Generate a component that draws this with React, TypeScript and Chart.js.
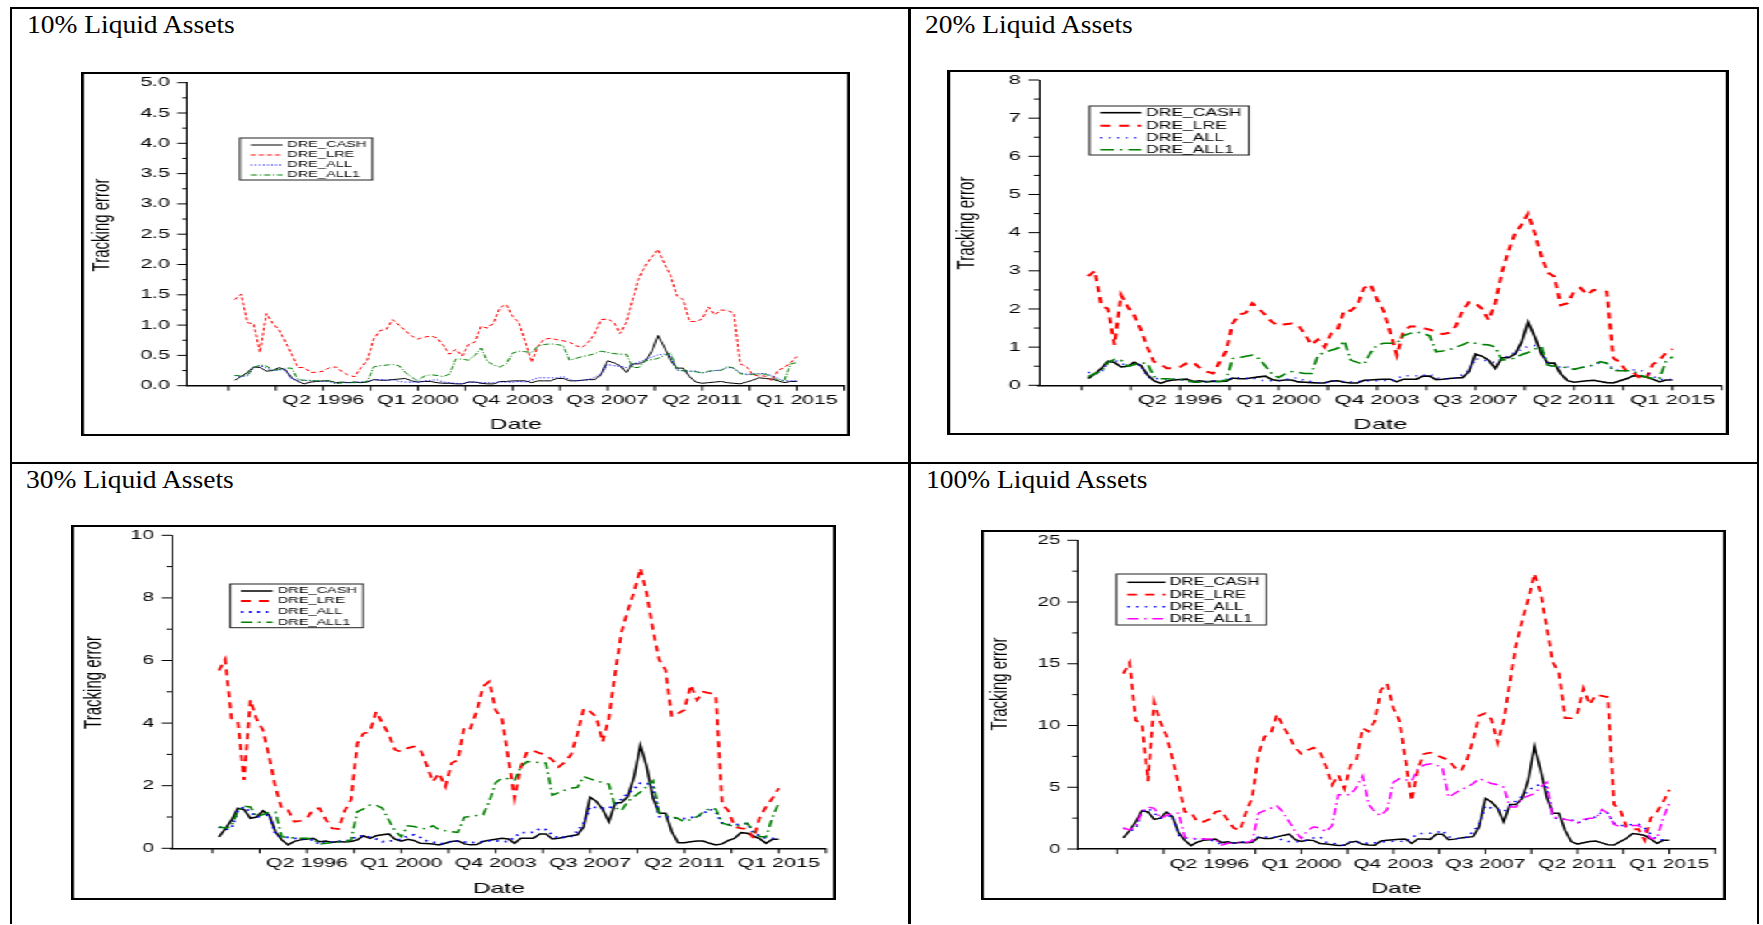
import React, { useEffect, useRef } from 'react';
import { Chart, registerables } from 'chart.js';
Chart.register(...registerables);

// ---------- categories ----------
const quarters: string[] = [];
for (let y = 1992; y <= 2015; y++) {
  for (let q = 1; q <= 4; q++) {
    if ((y === 1992 && q < 4) || (y === 2015 && q > 1)) continue;
    quarters.push(`Q${q} ${y}`);
  }
}
const xTickLabels = ['Q2 1996', 'Q1 2000', 'Q4 2003', 'Q3 2007', 'Q2 2011', 'Q1 2015'];
const seriesNames = ['DRE_CASH', 'DRE_LRE', 'DRE_ALL', 'DRE_ALL1'];

// ---------- 10% liquid assets ----------
const cash10 = [0.09,0.15,0.22,0.31,0.30,0.24,0.25,0.30,0.26,0.13, 0.07,0.03,0.06,0.07,0.08,0.08,0.05,0.06,0.05,0.06, 0.05,0.06,0.10,0.09,0.09,0.10,0.11,0.12,0.08,0.06, 0.07,0.07,0.05,0.04,0.04,0.03,0.03,0.06,0.06,0.04, 0.03,0.03,0.07,0.07,0.08,0.08,0.08,0.05,0.08,0.08, 0.08,0.12,0.12,0.08,0.08,0.09,0.10,0.10,0.18,0.41, 0.38,0.33,0.22,0.36,0.36,0.41,0.56,0.83,0.64,0.42, 0.29,0.29,0.15,0.06,0.04,0.05,0.06,0.07,0.05,0.04, 0.03,0.06,0.09,0.13,0.12,0.11,0.08,0.05,0.07,0.07];
const lre10 = [1.42,1.51,1.04,1.02,0.55,1.19,1.03,0.92,0.73,0.52, 0.30,0.30,0.22,0.22,0.24,0.30,0.31,0.23,0.17,0.15, 0.30,0.42,0.77,0.91,0.93,1.09,1.00,0.91,0.82,0.77, 0.80,0.82,0.79,0.67,0.52,0.60,0.49,0.68,0.72,0.98, 0.95,1.04,1.29,1.34,1.14,1.04,0.72,0.39,0.65,0.77, 0.78,0.76,0.74,0.72,0.66,0.63,0.72,0.86,1.09,1.10, 1.05,0.86,1.05,1.42,1.78,1.98,2.12,2.25,2.02,1.82, 1.48,1.42,1.06,1.06,1.10,1.30,1.17,1.25,1.24,1.20, 0.36,0.32,0.18,0.16,0.16,0.08,0.25,0.30,0.38,0.48];
const all10 = [0.17,0.15,0.16,0.30,0.33,0.29,0.25,0.26,0.27,0.11, 0.09,0.09,0.08,0.08,0.07,0.07,0.03,0.05,0.05,0.06, 0.06,0.07,0.10,0.10,0.09,0.10,0.07,0.06,0.06,0.06, 0.08,0.09,0.10,0.06,0.05,0.04,0.03,0.06,0.06,0.05, 0.05,0.05,0.06,0.06,0.06,0.07,0.06,0.09,0.13,0.13, 0.13,0.13,0.15,0.10,0.08,0.09,0.10,0.14,0.20,0.35, 0.33,0.32,0.30,0.35,0.39,0.43,0.47,0.51,0.52,0.50, 0.26,0.24,0.24,0.24,0.21,0.23,0.25,0.26,0.30,0.29, 0.21,0.19,0.19,0.20,0.20,0.17,0.12,0.08,0.08,0.08];
const all1_10 = [0.17,0.16,0.18,0.30,0.34,0.33,0.25,0.27,0.29,0.29, 0.10,0.09,0.09,0.08,0.08,0.08,0.03,0.05,0.05,0.05, 0.05,0.07,0.31,0.33,0.34,0.35,0.33,0.22,0.14,0.08, 0.16,0.18,0.17,0.15,0.19,0.44,0.44,0.42,0.50,0.62, 0.40,0.34,0.31,0.36,0.54,0.57,0.56,0.55,0.65,0.68, 0.69,0.68,0.66,0.42,0.45,0.48,0.50,0.53,0.57,0.55, 0.53,0.52,0.52,0.30,0.30,0.41,0.43,0.45,0.50,0.54, 0.26,0.25,0.24,0.23,0.21,0.24,0.25,0.25,0.32,0.29, 0.20,0.18,0.19,0.19,0.19,0.15,0.09,0.08,0.36,0.38];

// ---------- 20% liquid assets ----------
const cash20 = [0.18,0.30,0.44,0.63,0.60,0.48,0.50,0.60,0.52,0.28, 0.12,0.05,0.11,0.14,0.15,0.16,0.10,0.12,0.09,0.11, 0.10,0.11,0.19,0.17,0.17,0.20,0.22,0.24,0.15,0.12, 0.14,0.14,0.09,0.08,0.07,0.06,0.06,0.11,0.12,0.08, 0.06,0.06,0.13,0.14,0.15,0.16,0.16,0.09,0.16,0.16, 0.16,0.24,0.24,0.15,0.16,0.18,0.19,0.20,0.36,0.82, 0.76,0.66,0.44,0.72,0.72,0.82,1.12,1.66,1.28,0.84, 0.58,0.58,0.30,0.12,0.08,0.10,0.12,0.13,0.10,0.07, 0.06,0.12,0.17,0.25,0.24,0.22,0.16,0.09,0.14,0.14];
const lre20 = [2.86,3.00,2.10,2.00,1.06,2.37,2.06,1.84,1.46,1.00, 0.62,0.55,0.45,0.45,0.48,0.58,0.60,0.46,0.36,0.31, 0.60,0.90,1.62,1.85,1.90,2.15,2.00,1.84,1.66,1.56, 1.60,1.62,1.58,1.34,1.06,1.20,1.00,1.36,1.46,1.97, 1.95,2.10,2.55,2.65,2.25,1.95,1.40,0.79,1.40,1.54, 1.54,1.50,1.46,1.40,1.34,1.38,1.55,1.95,2.18,2.15, 2.00,1.71,2.15,2.95,3.50,3.98,4.20,4.50,4.00,3.40, 2.95,2.85,2.10,2.15,2.45,2.55,2.37,2.50,2.47,2.45, 0.71,0.60,0.36,0.34,0.20,0.16,0.55,0.65,0.85,0.95];
const all20 = [0.34,0.30,0.32,0.60,0.66,0.58,0.50,0.52,0.54,0.22, 0.18,0.17,0.16,0.16,0.14,0.13,0.06,0.10,0.10,0.11, 0.12,0.13,0.20,0.20,0.18,0.20,0.13,0.12,0.12,0.12, 0.15,0.18,0.20,0.11,0.10,0.07,0.06,0.12,0.11,0.10, 0.09,0.10,0.11,0.12,0.12,0.13,0.11,0.18,0.25,0.25, 0.25,0.26,0.30,0.20,0.16,0.18,0.19,0.28,0.40,0.70, 0.66,0.64,0.60,0.70,0.78,0.86,0.94,1.02,1.04,1.00, 0.52,0.48,0.48,0.48,0.42,0.46,0.50,0.52,0.60,0.58, 0.42,0.38,0.38,0.40,0.40,0.34,0.24,0.15,0.15,0.16];
const all1_20 = [0.23,0.31,0.36,0.60,0.68,0.66,0.50,0.54,0.58,0.58, 0.23,0.17,0.17,0.16,0.15,0.14,0.08,0.08,0.09,0.10, 0.10,0.13,0.70,0.72,0.76,0.79,0.70,0.50,0.30,0.20, 0.30,0.36,0.34,0.31,0.31,0.79,0.86,0.92,0.97,1.16, 0.66,0.60,0.55,0.85,1.06,1.10,1.10,1.10,1.30,1.36, 1.40,1.36,1.30,0.88,0.90,0.93,1.00,1.06,1.14,1.10, 1.07,1.06,1.00,0.66,0.68,0.71,0.80,0.86,0.95,1.01, 0.53,0.50,0.48,0.46,0.42,0.46,0.49,0.54,0.62,0.58, 0.38,0.38,0.38,0.38,0.27,0.22,0.18,0.18,0.62,0.75];

// ---------- 30% liquid assets ----------
const cash30 = [0.36,0.62,0.90,1.28,1.24,0.96,1.00,1.20,1.06,0.53, 0.27,0.11,0.22,0.27,0.30,0.32,0.21,0.23,0.19,0.22, 0.20,0.22,0.27,0.40,0.32,0.40,0.43,0.46,0.29,0.23, 0.29,0.25,0.16,0.15,0.14,0.11,0.16,0.22,0.24,0.14, 0.11,0.12,0.22,0.26,0.29,0.32,0.30,0.16,0.32,0.32, 0.32,0.46,0.46,0.30,0.32,0.36,0.40,0.43,0.69,1.63, 1.50,1.25,0.85,1.44,1.46,1.65,2.29,3.30,2.61,1.60, 1.12,1.12,0.53,0.18,0.18,0.21,0.23,0.23,0.16,0.11, 0.14,0.25,0.32,0.50,0.48,0.39,0.30,0.16,0.29,0.29];
const lre30 = [5.68,6.04,4.15,4.08,2.18,4.74,4.12,3.78,2.92,1.95, 1.25,1.22,0.85,0.88,0.96,1.25,1.28,0.92,0.64,0.62, 1.20,1.55,3.35,3.67,3.72,4.37,4.00,3.64,3.15,3.08, 3.20,3.25,3.16,2.68,2.13,2.40,1.97,2.72,2.82,3.89, 3.83,4.40,5.17,5.33,4.40,4.16,2.88,1.60,2.60,3.09, 3.12,3.04,2.98,2.82,2.60,2.75,3.00,3.67,4.47,4.37, 4.20,3.40,4.15,5.60,6.90,7.60,8.20,8.95,8.15,6.98, 6.02,5.70,4.20,4.31,4.42,5.22,4.74,5.00,4.96,4.90, 1.40,1.20,0.69,0.64,0.62,0.32,1.01,1.33,1.60,1.92];
const all30 = [0.68,0.60,0.64,1.20,1.32,1.16,1.00,1.04,1.08,0.44, 0.36,0.35,0.32,0.32,0.29,0.26,0.12,0.20,0.20,0.22, 0.24,0.26,0.40,0.40,0.36,0.30,0.21,0.24,0.24,0.30, 0.39,0.43,0.35,0.24,0.20,0.16,0.14,0.24,0.22,0.20, 0.18,0.20,0.21,0.24,0.24,0.21,0.22,0.36,0.50,0.50, 0.51,0.63,0.60,0.43,0.32,0.36,0.38,0.56,0.80,1.33, 1.30,1.28,1.28,1.40,1.57,1.75,1.90,2.08,2.08,2.00, 1.01,1.01,0.98,0.96,0.95,0.98,1.01,1.10,1.25,1.16, 0.80,0.76,0.75,0.78,0.80,0.48,0.40,0.32,0.32,0.32];
const all1_30 = [0.69,0.64,0.70,1.20,1.35,1.32,1.01,1.08,1.15,1.15, 0.37,0.34,0.34,0.32,0.32,0.30,0.13,0.16,0.18,0.20, 0.21,0.26,1.17,1.26,1.38,1.38,1.28,0.90,0.56,0.37, 0.72,0.70,0.64,0.62,0.72,0.60,0.56,0.53,0.51,0.99, 1.02,1.05,1.07,1.50,2.10,2.24,2.22,2.18,2.60,2.77, 2.76,2.74,2.72,1.70,1.78,1.86,1.92,1.95,2.29,2.22, 2.15,2.10,2.05,1.30,1.20,1.50,1.65,1.80,1.97,2.16, 1.12,1.05,1.01,0.95,0.85,0.92,1.01,1.15,1.28,1.25, 0.80,0.75,0.69,0.74,0.80,0.53,0.37,0.37,1.00,1.44];

// ---------- 100% liquid assets ----------
const cash100 = [0.9,1.5,2.2,3.1,3.0,2.4,2.5,3.0,2.6,1.3, 0.7,0.28,0.55,0.7,0.75,0.8,0.52,0.58,0.47,0.55, 0.5,0.55,0.95,0.85,0.85,0.98,1.1,1.2,0.75,0.62, 0.72,0.68,0.45,0.4,0.35,0.28,0.3,0.55,0.62,0.38, 0.32,0.3,0.65,0.7,0.75,0.78,0.8,0.45,0.8,0.8, 0.78,1.2,1.2,0.75,0.8,0.9,0.95,1.0,1.8,4.1, 3.8,3.3,2.2,3.6,3.6,4.1,5.6,8.3,6.4,4.2, 2.9,2.9,1.5,0.6,0.4,0.5,0.6,0.65,0.5,0.35, 0.32,0.6,0.85,1.25,1.2,1.1,0.8,0.45,0.7,0.7];
const lre100 = [14.2,15.1,10.4,10.2,5.5,11.9,10.3,9.2,7.3,5.2, 3.0,3.0,2.2,2.2,2.4,3.0,3.1,2.3,1.7,1.5, 3.0,4.2,7.7,9.1,9.3,10.9,10.0,9.1,8.2,7.7, 8.0,8.2,7.9,6.7,5.2,6.0,4.9,6.8,7.2,9.8, 9.5,10.4,12.9,13.4,11.4,10.4,7.2,3.9,6.5,7.7, 7.8,7.6,7.4,7.2,6.6,6.3,7.2,8.8,10.8,11.0, 10.5,8.6,10.4,13.5,16.5,18.5,20.2,22.3,20.8,18.0, 15.1,14.3,10.6,10.6,11.0,13.0,11.7,12.5,12.4,12.3, 3.6,3.2,1.8,1.6,1.6,0.7,2.5,3.0,3.8,4.8];
const all100 = [1.7,1.5,1.6,3.0,3.3,2.9,2.5,2.6,2.7,1.1, 0.9,0.85,0.8,0.8,0.72,0.65,0.3,0.5,0.5,0.55, 0.6,0.65,1.0,1.0,0.9,1.0,0.65,0.6,0.6,0.58, 0.75,0.9,1.0,0.55,0.5,0.35,0.3,0.6,0.55,0.5, 0.45,0.5,0.55,0.6,0.62,0.65,0.55,0.9,1.25,1.25, 1.27,1.3,1.5,1.0,0.8,0.9,0.95,1.4,2.0,3.5, 3.3,3.2,3.0,3.5,3.9,4.3,4.7,5.1,5.2,5.0, 2.6,2.4,2.4,2.4,2.1,2.3,2.5,2.6,3.0,2.9, 2.1,1.9,1.9,2.0,2.0,1.7,1.2,0.75,0.75,0.8];
const all1_100 = [1.7,1.55,1.8,3.0,3.4,3.3,2.5,2.7,2.9,2.9, 0.95,0.86,0.86,0.8,0.8,0.78,0.32,0.46,0.46,0.5, 0.54,0.65,2.9,3.1,3.3,3.5,3.0,2.2,1.4,0.86, 1.5,1.8,1.7,1.4,1.9,4.4,4.4,4.4,5.0,5.9, 3.6,3.0,2.7,3.2,5.4,5.7,5.6,5.5,6.5,6.8, 6.9,6.8,6.6,4.2,4.5,4.8,5.0,5.3,5.7,5.5, 5.3,5.2,5.0,3.4,3.4,4.1,4.3,4.5,5.0,5.4, 2.6,2.5,2.4,2.3,2.1,2.4,2.5,2.5,3.2,2.9, 2.0,1.8,1.85,1.9,1.9,1.5,0.86,0.86,2.5,3.7];

// ---------- y tick labels ----------
const yLabels10 = ['0.0','0.5','1.0','1.5','2.0','2.5','3.0','3.5','4.0','4.5','5.0'];
const yLabels20 = ['0','1','2','3','4','5','6','7','8'];
const yLabels30 = ['0','2','4','6','8','10'];
const yLabels100 = ['0','5','10','15','20','25'];

// ---------- axis config ----------
const X_MIN = -7.5;
const X_MAX = 96.5;
const X_STEP = 7.5;
const FONT = '"Liberation Sans", Arial, Helvetica, sans-serif';

function xTickValues(): number[] {
  const first = quarters.indexOf(xTickLabels[0]) - 2 * X_STEP;
  const out: number[] = [];
  for (let v = first; v <= X_MAX + 1e-9; v += X_STEP) out.push(v);
  return out;
}
function xLabelFor(v: number): string {
  for (const l of xTickLabels) if (Math.abs(quarters.indexOf(l) - v) < 1e-6) return l;
  return '';
}

type Style = { color: string; width: number; dash: number[] };
type PanelCfg = {
  title: string; titleLeft: number; titleTop: number;
  boxLeft: number; boxTop: number; boxW: number;
  canvasW: number; canvasH: number;
  plot: { left: number; right: number; top: number; bottom: number };
  yLabels: string[];
  series: number[][];
  styles: Style[];
  xTitlePad: number;
  yTitleX: number; yTitleY: number;
  legend: { x: number; y: number; w: number; h: number; x0: number; x1: number; tx: number; rows: number[]; font: number };
};

const panels: PanelCfg[] = [
  {
    title: '10% Liquid Assets', titleLeft: 27, titleTop: 12.4,
    boxLeft: 81, boxTop: 72, boxW: 769, canvasW: 465, canvasH: 360,
    plot: { left: 62.9, right: 463.5, top: 8.7, bottom: 311.7 },
    yLabels: yLabels10,
    series: [cash10, lre10, all10, all1_10],
    styles: [
      { color: '#000000', width: 1, dash: [] },
      { color: '#ff0000', width: 1, dash: [3, 2] },
      { color: '#0000ff', width: 1, dash: [1, 1.5] },
      { color: '#008000', width: 1, dash: [4, 1.5, 1, 1.5] },
    ],
    xTitlePad: 0.2, yTitleX: 10.6, yTitleY: 151,
    legend: { x: 94.9, y: 64, w: 80.9, h: 42, x0: 101.5, x1: 120.9, tx: 123.8, rows: [71, 81, 91, 101], font: 8.9 },
  },
  {
    title: '20% Liquid Assets', titleLeft: 925, titleTop: 12.4,
    boxLeft: 947, boxTop: 70, boxW: 782, canvasW: 456, canvasH: 361,
    plot: { left: 52.1, right: 453.7, top: 8, bottom: 313.3 },
    yLabels: yLabels20,
    series: [cash20, lre20, all20, all1_20],
    styles: [
      { color: '#000000', width: 1.6, dash: [] },
      { color: '#ff0000', width: 2, dash: [6, 5] },
      { color: '#0000ff', width: 1.5, dash: [1, 4] },
      { color: '#008000', width: 1.6, dash: [8, 3.5, 1.5, 3.5] },
    ],
    xTitlePad: -0.8, yTitleX: 10.3, yTitleY: 151,
    legend: { x: 81.8, y: 34, w: 93.8, h: 49, x0: 88.2, x1: 112.2, tx: 115.1, rows: [40.7, 53.7, 65.7, 77.7], font: 10.3 },
  },
  {
    title: '30% Liquid Assets', titleLeft: 26, titleTop: 467.4,
    boxLeft: 71, boxTop: 525, boxW: 765, canvasW: 460, canvasH: 371,
    plot: { left: 59.1, right: 455.9, top: 8.3, bottom: 321.3 },
    yLabels: yLabels30,
    series: [cash30, lre30, all30, all1_30],
    styles: [
      { color: '#000000', width: 1.5, dash: [] },
      { color: '#ff0000', width: 1.8, dash: [6, 5] },
      { color: '#0000ff', width: 1.8, dash: [1.5, 3.5] },
      { color: '#008000', width: 1.5, dash: [7, 3.5, 1.5, 3.5] },
    ],
    xTitlePad: 0.3, yTitleX: 12.1, yTitleY: 155.5,
    legend: { x: 94.6, y: 57, w: 80.6, h: 43.7, x0: 101, x1: 120.3, tx: 123.5, rows: [64, 74, 85, 95.3], font: 8.8 },
  },
  {
    title: '100% Liquid Assets', titleLeft: 926, titleTop: 467.4,
    boxLeft: 981, boxTop: 530, boxW: 745, canvasW: 462, canvasH: 366,
    plot: { left: 58.4, right: 457.3, top: 8.3, bottom: 317 },
    yLabels: yLabels100,
    series: [cash100, lre100, all100, all1_100],
    styles: [
      { color: '#000000', width: 1.5, dash: [] },
      { color: '#ff0000', width: 1.8, dash: [6, 5] },
      { color: '#0000ff', width: 1.5, dash: [1.5, 4] },
      { color: '#ff00ff', width: 1.5, dash: [7, 3.5, 1.5, 3.5] },
    ],
    xTitlePad: 0.3, yTitleX: 9.8, yTitleY: 152,
    legend: { x: 82.8, y: 42, w: 93.6, h: 51, x0: 89.6, x1: 113.4, tx: 116.1, rows: [50.3, 62.7, 74.7, 86.7], font: 10.3 },
  },
];

const decorPlugin = {
  id: 'decor',
  afterDraw(chart: any, _args: any, o: any) {
    const { ctx, chartArea: a, scales } = chart;
    const xs = scales.x;
    const ys = scales.y;
    ctx.save();
    ctx.setLineDash([]);
    ctx.strokeStyle = '#000';
    ctx.lineWidth = 1;
    ctx.beginPath();
    for (const v of o.xTicks) {
      const px = xs.getPixelForValue(v);
      ctx.moveTo(px, a.bottom);
      ctx.lineTo(px, a.bottom + 5);
    }
    const maj: number[] = o.yMajor;
    for (let k = 0; k < maj.length; k++) {
      const py = ys.getPixelForValue(maj[k]);
      ctx.moveTo(a.left, py);
      ctx.lineTo(a.left - 6.3, py);
      if (k < maj.length - 1) {
        const pm = ys.getPixelForValue((maj[k] + maj[k + 1]) / 2);
        ctx.moveTo(a.left, pm);
        ctx.lineTo(a.left - 3.2, pm);
      }
    }
    ctx.stroke();

    ctx.save();
    ctx.translate(o.yTitleX, o.yTitleY);
    ctx.rotate(-Math.PI / 2);
    ctx.font = `15px ${FONT}`;
    ctx.fillStyle = '#000';
    ctx.textAlign = 'center';
    ctx.textBaseline = 'middle';
    ctx.fillText(o.yTitle, 0, 0);
    ctx.restore();

    const L = o.legend;
    ctx.lineWidth = 1;
    ctx.strokeStyle = '#222';
    ctx.strokeRect(L.x, L.y, L.w, L.h);
    ctx.font = `${L.font}px ${FONT}`;
    ctx.textAlign = 'left';
    ctx.textBaseline = 'middle';
    chart.data.datasets.forEach((ds: any, k: number) => {
      const ry = L.rows[k];
      ctx.strokeStyle = ds.borderColor;
      ctx.lineWidth = ds.borderWidth;
      ctx.setLineDash(ds.borderDash || []);
      ctx.beginPath();
      ctx.moveTo(L.x0, ry);
      ctx.lineTo(L.x1, ry);
      ctx.stroke();
      ctx.setLineDash([]);
      ctx.fillStyle = '#000';
      ctx.fillText(ds.label, L.tx, ry);
    });
    ctx.restore();
  },
};

function buildConfig(cfg: PanelCfg): any {
  const xTicks = xTickValues();
  const yMajor = cfg.yLabels.map((s) => parseFloat(s));
  const yMax = yMajor[yMajor.length - 1];
  return {
    type: 'line',
    data: {
      datasets: cfg.series.map((vals, k) => ({
        label: seriesNames[k],
        data: vals.map((v, i) => ({ x: i, y: v })),
        borderColor: cfg.styles[k].color,
        borderWidth: cfg.styles[k].width,
        borderDash: cfg.styles[k].dash,
        pointRadius: 0,
        tension: 0,
        fill: false,
        order: 3 - k,
      })),
    },
    options: {
      animation: false,
      responsive: false,
      maintainAspectRatio: false,
      events: [],
      layout: { padding: { left: 0, bottom: 0, top: cfg.plot.top, right: cfg.canvasW - cfg.plot.right } },
      plugins: {
        legend: { display: false },
        tooltip: { enabled: false },
        decor: { xTicks, yMajor, yTitle: 'Tracking error', yTitleX: cfg.yTitleX, yTitleY: cfg.yTitleY, legend: cfg.legend },
      },
      scales: {
        x: {
          type: 'linear',
          min: X_MIN,
          max: X_MAX,
          afterBuildTicks: (s: any) => { s.ticks = xTicks.map((v) => ({ value: v })); },
          afterFit: (s: any) => {
            s.height = cfg.canvasH - cfg.plot.bottom;
            s.paddingLeft = 0;
            s.paddingRight = 0;
          },
          grid: { display: false, drawTicks: false },
          border: { display: true, color: '#000', width: 1.5 },
          ticks: {
            autoSkip: false, maxRotation: 0, minRotation: 0, padding: 7.2,
            color: '#000', font: { size: 13, family: FONT },
            callback: (v: any) => xLabelFor(Number(v)),
          },
          title: { display: true, text: 'Date', color: '#000', font: { size: 15, family: FONT }, padding: { top: 0, bottom: cfg.xTitlePad } },
        },
        y: {
          type: 'linear',
          min: 0,
          max: yMax,
          afterBuildTicks: (s: any) => { s.ticks = yMajor.map((v) => ({ value: v })); },
          afterFit: (s: any) => {
            s.width = cfg.plot.left;
            s.paddingTop = 0;
            s.paddingBottom = 0;
          },
          grid: { display: false, drawTicks: false },
          border: { display: true, color: '#000', width: 1 },
          ticks: {
            padding: 10.7, color: '#000', font: { size: 13, family: FONT },
            callback: (_v: any, i: number) => cfg.yLabels[i],
          },
        },
      },
    },
    plugins: [decorPlugin],
  };
}

function Panel({ cfg }: { cfg: PanelCfg }) {
  const ref = useRef<HTMLCanvasElement>(null);
  useEffect(() => {
    const chart = new Chart(ref.current as HTMLCanvasElement, buildConfig(cfg));
    return () => chart.destroy();
  }, [cfg]);
  const cssW = cfg.canvasW + 4;
  const S = cfg.boxW / cssW;
  return (
    <>
      <div
        style={{
          position: 'absolute', left: cfg.titleLeft, top: cfg.titleTop,
          fontFamily: '"Liberation Serif", "Times New Roman", serif', fontSize: 25, lineHeight: '25px',
          whiteSpace: 'nowrap', transform: 'scaleX(1.1)', transformOrigin: '0 0', color: '#000',
        }}
      >
        {cfg.title}
      </div>
      <div
        style={{
          position: 'absolute', left: cfg.boxLeft, top: cfg.boxTop,
          width: cssW, height: cfg.canvasH + 4, boxSizing: 'border-box',
          border: '2px solid #000', background: '#fff',
          transform: `scaleX(${S})`, transformOrigin: '0 0',
        }}
      >
        <canvas ref={ref} width={cfg.canvasW} height={cfg.canvasH} style={{ display: 'block' }} />
      </div>
    </>
  );
}

const lineStyle = (l: number, t: number, w: number, h: number): React.CSSProperties => ({
  position: 'absolute', left: l, top: t, width: w, height: h, background: '#000',
});

export default function App() {
  return (
    <div>
      <div style={lineStyle(10, 7, 1749, 2)} />
      <div style={lineStyle(10, 7, 2, 917)} />
      <div style={lineStyle(908, 7, 3, 917)} />
      <div style={lineStyle(1757, 7, 2, 917)} />
      <div style={lineStyle(10, 462, 1749, 2)} />
      {panels.map((p, i) => (
        <Panel key={i} cfg={p} />
      ))}
    </div>
  );
}
